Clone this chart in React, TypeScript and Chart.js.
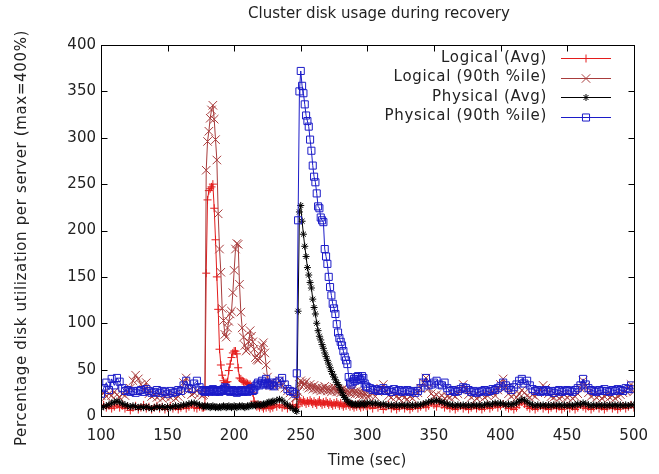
import React, { useEffect, useRef } from "react";
import { Chart, registerables } from "chart.js";

Chart.register(...registerables);

const TITLE = "Cluster disk usage during recovery";
const X_LABEL = "Time (sec)";
const Y_LABEL = "Percentage disk utilization per server (max=400%)";
const SERIES_NAMES = ["Logical (Avg)", "Logical (90th %ile)", "Physical (Avg)", "Physical (90th %ile)"];
const X_TICKS_STEP = 50;
const Y_TICKS_STEP = 50;

// sample times (sec)
const TIME = [
  100, 102, 104, 106, 108, 110, 112, 114, 116, 118, 120, 122, 124, 126, 128, 130, 132, 134, 136, 138,
  140, 142, 144, 146, 148, 150, 152, 154, 156, 158, 160, 162, 164, 166, 168, 170, 172, 174, 176,
  177, 178, 179, 180, 181, 182, 183, 184, 185, 186, 187, 188, 189, 190, 191, 192, 193, 194, 195, 196,
  197, 198, 199, 200, 201, 202, 203, 204, 205, 206, 207, 208, 209, 210, 211, 212, 213, 214, 215, 216,
  217, 218, 219, 220, 221, 222, 223, 224, 225, 226, 227, 228, 229, 230,
  232, 234, 236, 238, 240, 242, 244, 246,
  247, 248, 249, 250, 251, 252, 253, 254, 255, 256, 257, 258, 259, 260, 261, 262, 263, 264, 265, 266,
  267, 268, 269, 270, 271, 272, 273, 274, 275, 276, 277, 278, 279, 280, 281, 282, 283, 284, 285, 286,
  287, 288, 289, 290, 291, 292, 293, 294, 295, 296, 297, 298, 299, 300,
  302, 304, 306, 308, 310, 312, 314, 316, 318, 320, 322, 324, 326, 328, 330, 332, 334, 336, 338, 340,
  342, 344, 346, 348, 350, 352, 354, 356, 358, 360, 362, 364, 366, 368, 370, 372, 374, 376, 378, 380,
  382, 384, 386, 388, 390, 392, 394, 396, 398, 400, 402, 404, 406, 408, 410, 412, 414, 416, 418, 420,
  422, 424, 426, 428, 430, 432, 434, 436, 438, 440, 442, 444, 446, 448, 450, 452, 454, 456, 458, 460,
  462, 464, 466, 468, 470, 472, 474, 476, 478, 480, 482, 484, 486, 488, 490, 492, 494, 496, 498, 500,
];

const LOGICAL_AVG = [
  10, 12, 9, 11, 8, 10, 12, 9, 11, 8, 10, 6, 9, 11, 7, 9, 12, 8, 10, 7,
  9, 11, 8, 10, 7, 9, 11, 8, 10, 7, 9, 11, 8, 10, 12, 9, 8, 10, 9,
  9, 10, 154, 233, 243, 245, 247, 250, 224, 190, 150, 115, 72, 55, 44, 38, 36, 36, 37, 49,
  56, 63, 68, 70, 70, 67, 52, 41, 40, 38, 37, 36, 36, 35, 34, 34, 32, 25, 16, 12,
  10, 11, 9, 12, 10, 8, 11, 9, 12, 10, 8, 11, 9, 12,
  10, 12, 9, 11, 8, 10, 12, 9,
  10, 12, 18, 16, 14, 17, 15, 13, 16, 14, 17, 15, 13, 16, 14, 12, 15, 17, 14, 12,
  15, 13, 16, 14, 12, 15, 13, 11, 14, 12, 15, 13, 11, 14, 12, 10, 13, 11, 14, 12,
  10, 13, 11, 9, 12, 10, 13, 11, 9, 12, 10, 13, 11, 9,
  11, 8, 12, 9, 11, 7, 10, 12, 8, 10, 7, 9, 11, 8, 10, 7, 9, 11, 8, 10,
  12, 9, 11, 14, 12, 10, 15, 12, 9, 11, 8, 10, 7, 9, 11, 8, 10, 7, 9, 11,
  8, 10, 7, 9, 11, 8, 10, 12, 9, 11, 13, 10, 8, 10, 7, 9, 12, 15, 13, 10,
  8, 10, 7, 9, 11, 8, 10, 7, 9, 11, 8, 10, 7, 9, 11, 8, 10, 7, 9, 12,
  10, 8, 10, 7, 9, 11, 8, 10, 7, 9, 11, 8, 10, 7, 9, 11, 8, 10, 12, 9,
];

const LOGICAL_P90 = [
  22, 25, 21, 24, 22, 26, 23, 20, 24, 22, 26, 30, 38, 44, 40, 34, 28, 36, 24, 21,
  23, 20, 22, 19, 21, 23, 20, 22, 19, 21, 24, 36, 41, 28, 23, 25, 27, 24, 22,
  23, 25, 265, 296, 307, 321, 330, 335, 320, 298, 276, 218, 180, 155, 116, 103, 88, 85, 95, 102,
  110, 113, 133, 157, 180, 186, 185, 142, 112, 95, 85, 76, 70, 72, 80, 92, 86, 80, 72, 63,
  61, 60, 62, 70, 76, 79, 68, 55, 42, 35, 33, 36, 34, 32,
  34, 38, 33, 30, 27, 25, 22, 20,
  20, 26, 34, 38, 36, 33, 35, 37, 32, 30, 34, 31, 29, 33, 30, 28, 31, 29, 27, 30,
  28, 32, 29, 27, 30, 28, 26, 29, 31, 28, 26, 29, 27, 25, 28, 30, 27, 25, 28, 26,
  24, 27, 29, 26, 24, 27, 25, 23, 26, 24, 22, 25, 23, 21,
  22, 24, 21, 26, 30, 34, 27, 22, 20, 23, 21, 19, 22, 20, 18, 21, 19, 22, 25, 30,
  36, 41, 30, 24, 21, 23, 20, 22, 19, 21, 20, 23, 21, 24, 28, 34, 29, 23, 20, 22,
  19, 21, 23, 20, 22, 24, 26, 22, 28, 34, 40, 31, 24, 21, 23, 20, 24, 28, 25, 22,
  20, 23, 21, 25, 28, 33, 30, 24, 21, 20, 22, 19, 21, 23, 20, 22, 19, 21, 24, 30,
  38, 32, 25, 21, 23, 20, 22, 19, 21, 23, 20, 22, 19, 21, 23, 25, 27, 30, 34, 26,
];

const PHYSICAL_AVG = [
  9, 10, 11, 12, 14, 15, 16, 15, 13, 12, 11, 10, 11, 10, 9, 10, 9, 10, 9, 8,
  9, 10, 9, 10, 9, 10, 9, 10, 11, 10, 11, 12, 12, 13, 14, 14, 13, 12, 11,
  10, 11, 10, 11, 10, 9, 10, 11, 10, 9, 10, 9, 10, 9, 10, 11, 10, 9, 10, 11,
  10, 9, 10, 11, 10, 9, 10, 11, 10, 11, 10, 9, 10, 11, 10, 11, 12, 11, 12, 11,
  12, 13, 12, 11, 12, 13, 12, 13, 14, 15, 14, 15, 16, 15,
  17, 18, 17, 14, 12, 10, 8, 6,
  5, 113, 220, 227, 210, 196, 183, 172, 160, 152, 144, 138, 126, 117, 110, 100, 92, 86, 82, 77,
  73, 68, 64, 60, 56, 52, 48, 45, 42, 39, 36, 34, 31, 28, 25, 22, 20, 18, 16, 15,
  14, 13, 13, 12, 13, 12, 13, 12, 13, 14, 13, 12, 13, 14,
  14, 13, 14, 13, 12, 13, 12, 11, 12, 11, 12, 11, 12, 11, 12, 11, 12, 11, 12, 12,
  13, 14, 15, 16, 16, 17, 16, 15, 14, 13, 12, 12, 11, 12, 11, 12, 11, 12, 11, 12,
  11, 12, 11, 12, 13, 12, 13, 14, 13, 14, 13, 12, 13, 12, 13, 14, 16, 18, 17, 15,
  13, 12, 11, 12, 11, 12, 11, 12, 11, 12, 11, 12, 11, 12, 11, 12, 11, 12, 13, 12,
  14, 13, 12, 11, 12, 11, 12, 11, 12, 11, 12, 11, 12, 11, 12, 11, 12, 11, 12, 12,
];

const PHYSICAL_P90 = [
  24, 30, 36, 28, 40, 33, 41, 37, 30, 27, 28, 26, 27, 25, 27, 28, 26, 29, 27, 25,
  26, 28, 25, 27, 26, 24, 27, 25, 26, 28, 27, 33, 38, 30, 29, 35, 38, 31, 28,
  27, 26, 28, 27, 26, 28, 27, 29, 27, 26, 28, 27, 26, 28, 27, 29, 31, 30, 28, 27,
  26, 27, 28, 26, 27, 25, 27, 26, 28, 27, 26, 27, 28, 26, 27, 29, 30, 27, 28, 32,
  34, 36, 33, 35, 38, 34, 36, 40, 35, 33, 34, 36, 33, 32,
  36, 38, 41, 34, 29, 27, 26, 24,
  46, 211, 350, 372, 356, 348, 336, 324, 318, 312, 298, 286, 270, 258, 252, 240, 226, 224, 214, 211,
  209, 180, 172, 164, 150, 139, 130, 121, 116, 110, 99, 90, 84, 80, 76, 70, 64, 60, 56, 42,
  36, 34, 37, 40, 38, 42, 43, 40, 39, 43, 41, 35, 32, 31,
  30, 28, 29, 27, 28, 30, 27, 28, 26, 29, 27, 28, 26, 27, 28, 26, 27, 25, 27, 30,
  36, 41, 33, 34, 36, 38, 34, 33, 36, 30, 27, 28, 26, 27, 29, 31, 30, 28, 26, 27,
  25, 26, 27, 28, 26, 27, 29, 28, 30, 32, 36, 33, 30, 28, 31, 34, 38, 40, 35, 38,
  33, 29, 27, 28, 26, 27, 28, 26, 27, 25, 27, 28, 26, 27, 28, 27, 26, 28, 30, 33,
  40, 34, 30, 28, 27, 26, 28, 27, 29, 27, 26, 28, 27, 29, 28, 27, 30, 29, 33, 29,
];

const FONT = '"DejaVu Sans", sans-serif';
const TEXT_COLOR = "#222";
const COLORS = ["#e41c1c", "#a83c3c", "#000000", "#1c1cc8"];
const STYLES = ["cross", "crossRot", "star", "rect"];
const RADII = [4, 6, 3.5, 5];

function drawMarker(ctx: CanvasRenderingContext2D, style: string, x: number, y: number, r: number) {
  ctx.beginPath();
  const d = r * Math.SQRT1_2;
  if (style === "cross" || style === "star") {
    ctx.moveTo(x - r, y); ctx.lineTo(x + r, y);
    ctx.moveTo(x, y - r); ctx.lineTo(x, y + r);
  }
  if (style === "crossRot" || style === "star") {
    ctx.moveTo(x - d, y - d); ctx.lineTo(x + d, y + d);
    ctx.moveTo(x - d, y + d); ctx.lineTo(x + d, y - d);
  }
  if (style === "rect") {
    ctx.rect(x - d, y - d, 2 * d, 2 * d);
  }
  ctx.stroke();
}

const gnuplotDecor = {
  id: "gnuplotDecor",
  afterDraw(chart: any) {
    const { ctx, chartArea: a, scales } = chart;
    ctx.save();
    ctx.strokeStyle = "#000";
    ctx.lineWidth = 1;
    const L = Math.round(a.left) + 0.5, R = Math.round(a.right) + 0.5;
    const T = Math.round(a.top) + 0.5, B = Math.round(a.bottom) + 0.5;
    ctx.strokeRect(L, T, R - L, B - T);
    const tl = 6;
    ctx.beginPath();
    for (const t of scales.x.ticks) {
      const px = Math.round(scales.x.getPixelForValue(t.value)) + 0.5;
      ctx.moveTo(px, B); ctx.lineTo(px, B - tl);
      ctx.moveTo(px, T); ctx.lineTo(px, T + tl);
    }
    for (const t of scales.y.ticks) {
      const py = Math.round(scales.y.getPixelForValue(t.value)) + 0.5;
      ctx.moveTo(L, py); ctx.lineTo(L + tl, py);
      ctx.moveTo(R, py); ctx.lineTo(R - tl, py);
    }
    ctx.stroke();

    ctx.fillStyle = TEXT_COLOR;
    ctx.font = `15px ${FONT}`;
    ctx.textAlign = "center";
    ctx.textBaseline = "middle";
    ctx.fillText(TITLE, 379, 14);
    ctx.fillText(X_LABEL, 367, 461);
    ctx.save();
    (ctx as any).letterSpacing = "0.65px";
    ctx.translate(22, 238);
    ctx.rotate(-Math.PI / 2);
    ctx.fillText(Y_LABEL, 0, 0);
    ctx.restore();

    // legend
    ctx.textAlign = "right";
    for (let i = 0; i < SERIES_NAMES.length; i++) {
      const y = 58 + i * 19.5;
      ctx.fillStyle = TEXT_COLOR;
      (ctx as any).letterSpacing = "0.7px";
      ctx.fillText(SERIES_NAMES[i], 547, y);
      (ctx as any).letterSpacing = "0px";
      ctx.strokeStyle = COLORS[i];
      ctx.lineWidth = 1;
      const yy = Math.round(y) + 0.5;
      ctx.beginPath();
      ctx.moveTo(561, yy); ctx.lineTo(611, yy);
      ctx.stroke();
      drawMarker(ctx, STYLES[i], 586, yy, RADII[i]);
    }
    ctx.restore();
  },
};

export default function App() {
  const ref = useRef<HTMLCanvasElement>(null);
  useEffect(() => {
    const canvas = ref.current;
    if (!canvas) return;
    const seriesValues = [LOGICAL_AVG, LOGICAL_P90, PHYSICAL_AVG, PHYSICAL_P90];
    const datasets = seriesValues.map((vals, i) => ({
      label: SERIES_NAMES[i],
      data: TIME.map((t, j) => ({ x: t, y: vals[j] })),
      borderColor: COLORS[i],
      backgroundColor: COLORS[i],
      borderWidth: 1,
      pointStyle: STYLES[i] as any,
      pointRadius: RADII[i],
      pointBorderWidth: 1,
      pointBorderColor: COLORS[i],
      pointBackgroundColor: "rgba(0,0,0,0)",
      order: 4 - i,
      tension: 0,
      fill: false,
    }));
    const tickFont = { family: FONT, size: 15 };
    const chart = new Chart(canvas, {
      type: "line",
      data: { datasets },
      options: {
        animation: false,
        responsive: false,
        maintainAspectRatio: false,
        devicePixelRatio: 1,
        events: [],
        layout: { padding: { top: 45, right: 25, left: 0, bottom: 0 } },
        plugins: {
          legend: { display: false },
          title: { display: false },
          tooltip: { enabled: false },
        },
        scales: {
          x: {
            type: "linear",
            min: 100,
            max: 500,
            grid: { display: false, drawTicks: false },
            border: { display: false },
            ticks: { stepSize: X_TICKS_STEP, padding: 11, color: TEXT_COLOR, font: tickFont, maxRotation: 0, autoSkip: false },
            afterFit: (s: any) => { s.height = 58; },
          },
          y: {
            type: "linear",
            min: 0,
            max: 400,
            grid: { display: false, drawTicks: false },
            border: { display: false },
            ticks: { stepSize: Y_TICKS_STEP, padding: 5, color: TEXT_COLOR, font: tickFont },
            afterFit: (s: any) => { s.width = 101; },
          },
        },
      },
      plugins: [gnuplotDecor],
    });
    return () => chart.destroy();
  }, []);
  return (
    <div style={{ position: "absolute", left: 0, top: 0, width: 659, height: 474, background: "#fff" }}>
      <canvas ref={ref} width={659} height={474} style={{ display: "block" }} />
    </div>
  );
}
